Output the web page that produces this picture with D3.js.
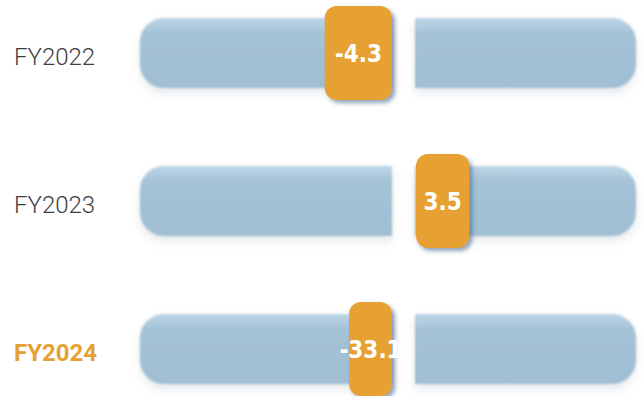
<!DOCTYPE html>
<html>
<head>
<meta charset="utf-8">
<script src="https://cdn.jsdelivr.net/npm/d3@7/dist/d3.min.js"></script>
<style>
  html, body { margin: 0; padding: 0; background: #ffffff; }
  svg { display: block; }
</style>
</head>
<body>
<div id="chart"></div>
<script>
// Year-over-year change per fiscal year
const years = ["FY2022", "FY2023", "FY2024"];
const values = [-4.3, 3.5, -33.1];
const highlightYear = "FY2024";

const W = 642, H = 396;
const accent = "#e6a133";

const svg = d3.select("#chart").append("svg")
  .attr("width", W).attr("height", H);

const defs = svg.append("defs");

// soft track fill with a lighter top edge
const grad = defs.append("linearGradient")
  .attr("id", "trackFill").attr("x1", 0).attr("x2", 0).attr("y1", 0).attr("y2", 1);
grad.append("stop").attr("offset", "0%").attr("stop-color", "#bdd6e7");
grad.append("stop").attr("offset", "22%").attr("stop-color", "#a5c2d7");
grad.append("stop").attr("offset", "100%").attr("stop-color", "#a0bed3");

// track shadow
const f1 = defs.append("filter").attr("id", "trackShadow")
  .attr("x", "-10%").attr("y", "-30%").attr("width", "120%").attr("height", "170%");
f1.append("feGaussianBlur").attr("in", "SourceAlpha").attr("stdDeviation", 5).attr("result", "b");
f1.append("feOffset").attr("in", "b").attr("dx", 0).attr("dy", 5).attr("result", "o");
f1.append("feFlood").attr("flood-color", "#8b97a3").attr("flood-opacity", 0.22).attr("result", "c");
f1.append("feComposite").attr("in", "c").attr("in2", "o").attr("operator", "in").attr("result", "s");
f1.append("feGaussianBlur").attr("in", "SourceGraphic").attr("stdDeviation", 0.9).attr("result", "g");
const m1 = f1.append("feMerge");
m1.append("feMergeNode").attr("in", "s");
m1.append("feMergeNode").attr("in", "g");

// marker shadow
const f2 = defs.append("filter").attr("id", "markerShadow")
  .attr("x", "-30%").attr("y", "-20%").attr("width", "170%").attr("height", "140%");
f2.append("feGaussianBlur").attr("in", "SourceAlpha").attr("stdDeviation", 2.2).attr("result", "b");
f2.append("feOffset").attr("in", "b").attr("dx", 3).attr("dy", 3).attr("result", "o");
f2.append("feFlood").attr("flood-color", "#3b5a82").attr("flood-opacity", 0.55).attr("result", "c");
f2.append("feComposite").attr("in", "c").attr("in2", "o").attr("operator", "in").attr("result", "s");
const m2 = f2.append("feMerge");
m2.append("feMergeNode").attr("in", "s");
m2.append("feMergeNode").attr("in", "SourceGraphic");

// rows
const y = d3.scalePoint().domain(years).range([53, 349]);

// gauge: negative half on the left, positive half on the right, split at zero
const gauge = d3.scaleLinear().domain([-1, 0, 1]).range([140, 403.5, 636]);
const gap = 23;
const trackH = 70, trackR = 24;
const markerH = 94, markerR = 12;

// marker width grows with the size of the change; off-scale values get a compact pill
const offScale = 10;
const markerWidth = d3.scaleLinear().domain([2, 6]).range([27, 97]);
const compactWidth = 43;

function halfRoundedRect(x0, x1, yc, h, r, side) {
  const p = d3.path();
  const t = yc - h / 2, b = yc + h / 2;
  if (side === "left") {
    p.moveTo(x1, t);
    p.lineTo(x0 + r, t);
    p.arcTo(x0, t, x0, t + r, r);
    p.lineTo(x0, b - r);
    p.arcTo(x0, b, x0 + r, b, r);
    p.lineTo(x1, b);
  } else {
    p.moveTo(x0, t);
    p.lineTo(x1 - r, t);
    p.arcTo(x1, t, x1, t + r, r);
    p.lineTo(x1, b - r);
    p.arcTo(x1, b, x1 - r, b, r);
    p.lineTo(x0, b);
  }
  p.closePath();
  return p.toString();
}

const rows = years.map((yr, i) => ({ year: yr, value: values[i] }));

const g = svg.selectAll("g.row").data(rows).join("g").attr("class", "row");

// track halves
g.append("path")
  .attr("d", d => halfRoundedRect(gauge(-1), gauge(0) - gap / 2, y(d.year), trackH, trackR, "left"))
  .attr("fill", "url(#trackFill)")
  .attr("filter", "url(#trackShadow)");
g.append("path")
  .attr("d", d => halfRoundedRect(gauge(0) + gap / 2, gauge(1), y(d.year), trackH, trackR, "right"))
  .attr("fill", "url(#trackFill)")
  .attr("filter", "url(#trackShadow)");

// year labels
g.append("text")
  .attr("x", 14)
  .attr("y", d => y(d.year) + 11.5)
  .attr("font-family", "Roboto, 'Noto Sans', sans-serif")
  .attr("font-size", 24)
  .attr("font-weight", d => d.year === highlightYear ? 700 : 300)
  .attr("fill", d => d.year === highlightYear ? accent : "#3c3c3c")
  .text(d => d.year);

// value markers
function mw(v) {
  const a = Math.abs(v);
  return a > offScale ? compactWidth : markerWidth(a);
}
function mx(v) {
  return v < 0 ? gauge(0) - gap / 2 - mw(v) : gauge(0) + gap / 2 + 1;
}

g.append("rect")
  .attr("x", d => mx(d.value))
  .attr("y", d => y(d.year) - markerH / 2)
  .attr("width", d => mw(d.value))
  .attr("height", markerH)
  .attr("rx", markerR).attr("ry", markerR)
  .attr("fill", accent)
  .attr("filter", "url(#markerShadow)");

g.append("text")
  .attr("x", d => mx(d.value) + mw(d.value) / 2)
  .attr("y", d => y(d.year) + 9)
  .attr("text-anchor", "middle")
  .attr("font-family", "'DejaVu Sans Condensed', 'DejaVu Sans', sans-serif")
  .attr("font-stretch", "condensed")
  .attr("font-weight", 700)
  .attr("font-size", 24)
  .attr("fill", "#ffffff")
  .text(d => d.value.toFixed(1));
</script>
</body>
</html>
